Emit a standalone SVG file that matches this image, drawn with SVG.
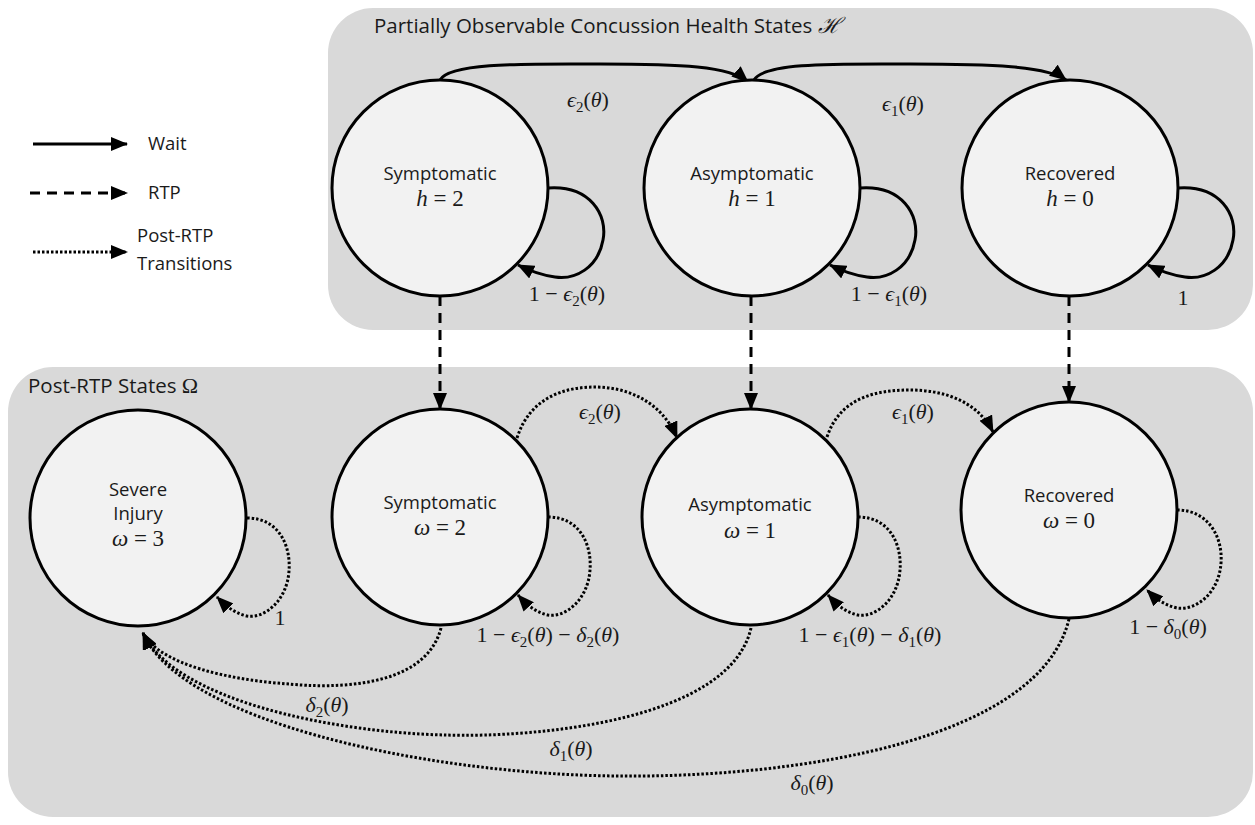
<svg xmlns="http://www.w3.org/2000/svg" width="1255" height="825" viewBox="0 0 1255 825">
<style>
.panel{fill:#d9d9d9;stroke:none}
.node{fill:#f2f2f2;stroke:#000;stroke-width:3}
.t{font-family:"Open Sans","Liberation Sans",sans-serif;font-size:18.5px;fill:#1a1a1a}
.title{font-family:"Open Sans","Liberation Sans",sans-serif;font-size:20.5px;fill:#1a1a1a}
.m{font-family:"Liberation Serif","DejaVu Serif",serif;font-size:22px;fill:#1a1a1a}
.n{font-family:"Liberation Serif","DejaVu Serif",serif;font-size:23px;fill:#1a1a1a}
.i{font-style:italic}
.s{font-size:15px}
.solid{fill:none;stroke:#000;stroke-width:3}
.dash{fill:none;stroke:#000;stroke-width:3;stroke-dasharray:10 7}
.dot{fill:none;stroke:#000;stroke-width:3;stroke-dasharray:2.5 2}
</style>
<defs>
<marker id="ah" markerUnits="userSpaceOnUse" markerWidth="17" markerHeight="14" refX="16" refY="7" orient="auto">
<path d="M0,0 L17,7 L0,14 z" fill="#000" stroke="none"/>
</marker>
</defs>

<g id="panels">
<rect class="panel" x="328" y="8" width="925" height="322" rx="45"/>
<rect class="panel" x="8" y="367" width="1245" height="450" rx="45"/>
<text class="title" x="374" y="33">Partially Observable Concussion Health States <tspan class="m i">ℋ</tspan></text>
<text class="title" x="28" y="393">Post-RTP States <tspan class="m">Ω</tspan></text>
</g>

<g id="legend">
<line class="solid" x1="33" y1="144" x2="127" y2="144" marker-end="url(#ah)"/>
<text class="t" x="148" y="150">Wait</text>
<line class="dash" x1="30" y1="193" x2="127" y2="193" marker-end="url(#ah)"/>
<text class="t" x="148" y="199">RTP</text>
<line class="dot" x1="33" y1="252" x2="127" y2="252" marker-end="url(#ah)"/>
<text class="t" x="137" y="242">Post-RTP</text>
<text class="t" x="137" y="270">Transitions</text>
</g>

<g id="connectors">
<path class="solid" d="M440,80 C450,62 530,64 600,64 C680,64 730,66 748,82" marker-end="url(#ah)"/>
<path class="solid" d="M754,80 C764,62 840,64 910,64 C990,64 1048,66 1066,80" marker-end="url(#ah)"/>
<path class="solid" d="M548,188 C590,185 608,215 603,240 C598,268 575,280 555,277 C540,275 528,270 518,265" marker-end="url(#ah)"/>
<path class="solid" d="M860,188 C902,185 920,215 915,240 C910,268 887,280 867,277 C852,275 840,270 830,265" marker-end="url(#ah)"/>
<path class="solid" d="M1178,188 C1220,185 1238,215 1233,240 C1228,268 1205,280 1185,277 C1170,275 1158,270 1148,265" marker-end="url(#ah)"/>
<line class="dash" x1="440" y1="296" x2="440" y2="409" marker-end="url(#ah)"/>
<line class="dash" x1="751" y1="296" x2="751" y2="409" marker-end="url(#ah)"/>
<line class="dash" x1="1069" y1="296" x2="1069" y2="402" marker-end="url(#ah)"/>
<path class="dot" d="M517,438 C530,397 565,387 595,387 C628,387 662,402 677,438" marker-end="url(#ah)"/>
<path class="dot" d="M827,437 C840,398 875,390 910,390 C945,390 978,402 993,432" marker-end="url(#ah)"/>
<path class="dot" d="M247,518 C279,518 291,546 289,571 C287,601 264,619 247,616 C234,613 226,606 217,597" marker-end="url(#ah)"/>
<path class="dot" d="M548,517 C580,517 592,545 590,570 C588,600 565,618 548,615 C535,612 527,605 518,595" marker-end="url(#ah)"/>
<path class="dot" d="M858,517 C890,517 902,545 900,570 C898,600 875,618 858,615 C845,612 837,605 828,595" marker-end="url(#ah)"/>
<path class="dot" d="M1177,510 C1209,510 1223,538 1221,563 C1219,593 1196,611 1177,608 C1164,605 1155,598 1147,590" marker-end="url(#ah)"/>
<path class="dot" d="M441,628 C425,690 330,688 289,684 C230,680 160,665 143,633" marker-end="url(#ah)"/>
<path class="dot" d="M751,628 C730,720 540,738 444,735 C330,732 175,700 143,633" marker-end="url(#ah)"/>
<path class="dot" d="M1069,619 C1040,740 800,778 617,776 C420,774 180,720 143,633" marker-end="url(#ah)"/>
</g>

<g id="edge-labels">
<text class="m" x="588" y="107" text-anchor="middle"><tspan class="i">ϵ</tspan><tspan class="s" dy="5">2</tspan><tspan dy="-5">(</tspan><tspan class="i">θ</tspan>)</text>
<text class="m" x="903" y="111" text-anchor="middle"><tspan class="i">ϵ</tspan><tspan class="s" dy="5">1</tspan><tspan dy="-5">(</tspan><tspan class="i">θ</tspan>)</text>
<text class="m" x="567" y="301" text-anchor="middle">1 − <tspan class="i">ϵ</tspan><tspan class="s" dy="5">2</tspan><tspan dy="-5">(</tspan><tspan class="i">θ</tspan>)</text>
<text class="m" x="889" y="301" text-anchor="middle">1 − <tspan class="i">ϵ</tspan><tspan class="s" dy="5">1</tspan><tspan dy="-5">(</tspan><tspan class="i">θ</tspan>)</text>
<text class="m" x="1183" y="305" text-anchor="middle">1</text>
<text class="m" x="600" y="419" text-anchor="middle"><tspan class="i">ϵ</tspan><tspan class="s" dy="5">2</tspan><tspan dy="-5">(</tspan><tspan class="i">θ</tspan>)</text>
<text class="m" x="913" y="419" text-anchor="middle"><tspan class="i">ϵ</tspan><tspan class="s" dy="5">1</tspan><tspan dy="-5">(</tspan><tspan class="i">θ</tspan>)</text>
<text class="m" x="280" y="625" text-anchor="middle">1</text>
<text class="m" x="548" y="642" text-anchor="middle">1 − <tspan class="i">ϵ</tspan><tspan class="s" dy="5">2</tspan><tspan dy="-5">(</tspan><tspan class="i">θ</tspan>) − <tspan class="i">δ</tspan><tspan class="s" dy="5">2</tspan><tspan dy="-5">(</tspan><tspan class="i">θ</tspan>)</text>
<text class="m" x="870" y="642" text-anchor="middle">1 − <tspan class="i">ϵ</tspan><tspan class="s" dy="5">1</tspan><tspan dy="-5">(</tspan><tspan class="i">θ</tspan>) − <tspan class="i">δ</tspan><tspan class="s" dy="5">1</tspan><tspan dy="-5">(</tspan><tspan class="i">θ</tspan>)</text>
<text class="m" x="1168" y="634" text-anchor="middle">1 − <tspan class="i">δ</tspan><tspan class="s" dy="5">0</tspan><tspan dy="-5">(</tspan><tspan class="i">θ</tspan>)</text>
<text class="m" x="327" y="712" text-anchor="middle"><tspan class="i">δ</tspan><tspan class="s" dy="5">2</tspan><tspan dy="-5">(</tspan><tspan class="i">θ</tspan>)</text>
<text class="m" x="571" y="756" text-anchor="middle"><tspan class="i">δ</tspan><tspan class="s" dy="5">1</tspan><tspan dy="-5">(</tspan><tspan class="i">θ</tspan>)</text>
<text class="m" x="812" y="790" text-anchor="middle"><tspan class="i">δ</tspan><tspan class="s" dy="5">0</tspan><tspan dy="-5">(</tspan><tspan class="i">θ</tspan>)</text>
</g>

<g id="h2">
<circle class="node" cx="440" cy="188" r="108"/>
<text class="t" x="440" y="180" text-anchor="middle">Symptomatic</text>
<text class="n" x="440" y="206" text-anchor="middle"><tspan class="i">h</tspan> = 2</text>
</g>
<g id="h1">
<circle class="node" cx="752" cy="188" r="108"/>
<text class="t" x="752" y="180" text-anchor="middle">Asymptomatic</text>
<text class="n" x="752" y="206" text-anchor="middle"><tspan class="i">h</tspan> = 1</text>
</g>
<g id="h0">
<circle class="node" cx="1070" cy="188" r="108"/>
<text class="t" x="1070" y="180" text-anchor="middle">Recovered</text>
<text class="n" x="1070" y="206" text-anchor="middle"><tspan class="i">h</tspan> = 0</text>
</g>

<g id="w3">
<circle class="node" cx="138" cy="518" r="108"/>
<text class="t" x="138" y="496" text-anchor="middle">Severe</text>
<text class="t" x="138" y="520" text-anchor="middle">Injury</text>
<text class="n" x="138" y="546" text-anchor="middle"><tspan class="i">ω</tspan> = 3</text>
</g>
<g id="w2">
<circle class="node" cx="440" cy="517" r="108"/>
<text class="t" x="440" y="509" text-anchor="middle">Symptomatic</text>
<text class="n" x="440" y="535" text-anchor="middle"><tspan class="i">ω</tspan> = 2</text>
</g>
<g id="w1">
<circle class="node" cx="750" cy="517" r="108"/>
<text class="t" x="750" y="511" text-anchor="middle">Asymptomatic</text>
<text class="n" x="750" y="538" text-anchor="middle"><tspan class="i">ω</tspan> = 1</text>
</g>
<g id="w0">
<circle class="node" cx="1069" cy="510" r="108"/>
<text class="t" x="1069" y="502" text-anchor="middle">Recovered</text>
<text class="n" x="1069" y="528" text-anchor="middle"><tspan class="i">ω</tspan> = 0</text>
</g>
</svg>
